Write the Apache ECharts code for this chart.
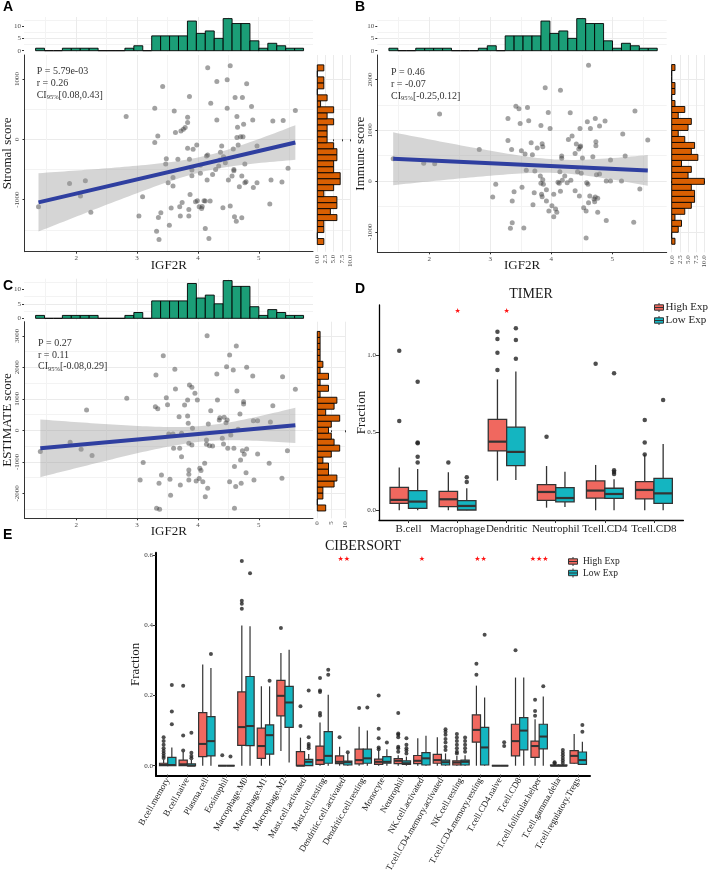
<!DOCTYPE html>
<html><head><meta charset="utf-8">
<script src="https://cdn.jsdelivr.net/npm/echarts@6/dist/echarts.min.js"></script>
<style>html,body{margin:0;padding:0;background:#fff}#c{width:709px;height:875px}</style>
</head><body><div id="c"></div>
<script>
// ================= DATA =================
// Panel A: IGF2R vs Stromal score
const aX = [1.38,1.89,2.07,2.15,2.24,2.82,3.03,3.09,3.29,3.29, 3.34,3.32,3.36,3.35,3.39,3.42,3.48,3.47,3.51,3.53, 3.56,3.59,3.59,3.61,3.63,3.67,3.70,3.71,3.72,3.74, 3.76,3.79,3.83,3.83,3.83,3.86,3.86,3.85,3.85,3.87, 3.90,3.90,3.92,3.96,3.98,3.99,4.02,4.04,4.04,4.06, 4.07,4.10,4.12,4.12,4.14,4.15,4.16,4.16,4.18,4.20, 4.21,4.24,4.29,4.31,4.31,4.34,4.36,4.37,4.39,4.41, 4.42,4.45,4.48,4.48,4.50,4.53,4.53,4.56,4.58,4.59, 4.59,4.60,4.61,4.63,4.64,4.64,4.65,4.66,4.68,4.70, 4.72,4.72,4.73,4.74,4.75,4.77,4.77,4.79,4.80,4.88, 4.90,4.91,4.97,4.97,5.18,5.20,5.23,5.38,5.40,5.48,5.60];
const aY = [-1119,-731,-942,-687,-1208,377,-1274,-953,515,-55, 55,-1524,-1662,-1296,-1219,875,-321,-410,-720,-1424, -1141,-632,-776,471,111,-332,-1119,-1274,139,-1047, 166,194,366,277,-150,709,-332,-1163,-1274,-914, -510,-604,-166,-1036,-94,-1019,-1119,-432,-565,-1147, -1114,-1019,-1479,-1025,-277,-676,1186,-260,-1645,-1025, 598,-582,-499,958,321,-443,-343,-216,-111,-1136, -288,-388,515,986,-676,1219,-1108,-609,-161,-499, -521,-1285,693,-1357,377,28,199,-94,-787,44, -609,-1302,693,44,249,-410,-720,-704,920,543, 321,-798,-720,-111,-1075,-676,305,-709,310,-482,476];
// Panel B: IGF2R vs Immune score
const bX = [1.41,1.91,2.09,2.17,2.82,3.04,3.09,3.29,3.29,3.33, 3.35,3.36,3.36,3.39,3.42,3.47,3.49,3.51,3.52,3.55, 3.57,3.59,3.61,3.63,3.67,3.69,3.70,3.72,3.73,3.77, 3.82,3.83,3.83,3.84,3.85,3.85,3.86,3.86,3.87,3.90, 3.92,3.92,3.95,3.96,3.98,4.01,4.04,4.04,4.07,4.09, 4.11,4.13,4.14,4.15,4.15,4.17,4.17,4.18,4.22,4.26, 4.28,4.31,4.32,4.34,4.39,4.39,4.41,4.43,4.45,4.46, 4.47,4.47,4.48,4.49,4.51,4.53,4.57,4.57,4.59,4.58, 4.60,4.61,4.61,4.63,4.64,4.68,4.70,4.71,4.72,4.72, 4.73,4.73,4.74,4.76,4.76,4.79,4.79,4.88,4.90,4.90, 4.97,4.97,5.15,5.17,5.21,5.35,5.37,5.45,5.58];
const bY = [439,348,341,1318,623,-315,-66,1233,800,-931, 623,-393,-820,-210,1475,1423,1134,597,-125,-925, 531,210,1449,1187,754,518,-466,-230,197,649, 98,1095,-46,-262,734,-308,675,26,-66,1836, -171,-393,1351,-590,1036,-485,-702,-262,-551,-616, -26,-46,184,-203,1790,446,492,13,98,-33, 820,1344,13,885,-190,544,728,184,630,-295, 1036,669,688,151,452,-525,-590,-1121,1167,-33, -66,2282,-426,-295,1036,479,-354,-407,-315,1233, 774,695,125,-616,-341,138,1082,1180,0,-780, 0,413,0,925,492,-813,1377,-157,807];
// Panel C: IGF2R vs ESTIMATE score
const cX = [1.41,1.90,2.08,2.17,2.26,2.83,3.05,3.10,3.30,3.31, 3.34,3.32,3.37,3.36,3.40,3.43,3.48,3.50,3.52,3.54, 3.55,3.59,3.60,3.62,3.63,3.69,3.70,3.71,3.73,3.73, 3.78,3.83,3.83,3.84,3.86,3.85,3.85,3.85,3.85,3.90, 3.90,3.91,3.95,3.97,3.99,4.02,4.03,4.05,4.08,4.11, 4.12,4.14,4.14,4.15,4.16,4.17,4.19,4.21,4.24,4.31, 4.32,4.35,4.36,4.40,4.42,4.43,4.46,4.47,4.48,4.49, 4.52,4.52,4.54,4.58,4.59,4.60,4.60,4.62,4.63,4.64, 4.66,4.69,4.70,4.71,4.73,4.75,4.75,4.76,4.79,4.80, 4.80,4.90,4.91,4.92,4.98,4.98,5.17,5.19,5.23,5.38, 5.39,5.47,5.60];
const cY = [-677,-381,-603,646,-804,1016,-1577,-1026,751,1757, 688,-2476,-2508,-1683,-1418,2370,1037,815,-116,-1556, -2063,-116,-571,1937,1312,434,-571,-1735,-95,-836, 804,963,455,222,1439,-413,-1259,-1397,-1577,-466, 1365,63,1175,-1608,963,-1534,-1206,-1280,-1630,-1048, -2106,-444,-307,3005,-1841,201,-487,624,-497,1788, 963,328,402,-254,-434,413,243,2021,328,-571, 2392,-1630,-148,1915,-571,-1153,-2476,-1788,2677,1249, 32,519,-942,-1683,-646,910,836,-762,-1344,2000, -593,1725,307,-1577,307,-751,-1048,265,783,-1524, 1704,-646,1302];

// Marginal histogram of IGF2R (shared by A, B, C)
const igf2rHistCounts = [1,0,0,1,1,1,1,0,0,0,1,2,0,6,6,6,6,12,7,8,5,13,11,11,4,1,3,2,1,1];
const igf2rBinStart = 1.34, igf2rBinWidth = 0.1465;
// Right marginal histograms (bins listed bottom -> top)
const stromalHistCounts = [2,0,2,2,6,4,6,6,2,5,7,7,5,5,6,6,5,3,3,3,5,3,5,1,3,0,2,2,0,2];
const stromalBinStart = -1745, stromalBinWidth = 99.3;
const immuneHistCounts = [1,0,2,3,1,4,6,7,7,6,10,5,6,3,8,6,7,4,2,5,6,2,4,1,0,1,1,0,0,1];
const immuneBinStart = -1246, immuneBinWidth = 118;
const estimateHistCounts = [3,0,2,2,6,7,4,4,2,5,8,6,5,4,5,8,3,6,7,1,4,1,4,1,2,1,1,1,1,1];
const estimateBinStart = -2561, estimateBinWidth = 190;

const statsA = ['P = 5.79e-03', 'r = 0.26', '[0.08,0.43]'];
const statsB = ['P = 0.46', 'r = -0.07', '[-0.25,0.12]'];
const statsC = ['P = 0.27', 'r = 0.11', '[-0.08,0.29]'];

// Tick values
const igf2rTicks = [2, 3, 4, 5];
const stromalTicks = [-1000, 0, 1000];
const immuneTicks = [-1000, 0, 1000, 2000];
const estimateTicks = [-2000, -1000, 0, 1000, 2000, 3000];
const histCountTicks = [0, 5, 10];
const rightTicksAB = [0, 2.5, 5, 7.5, 10];
const rightTicksC = [0, 5, 10];
const timerTicks = [0, 0.5, 1.0];
const ciberTicks = [0, 0.2, 0.4, 0.6];

// Panel D: TIMER  [min, Q1, median, Q3, max]
const timerCats = ['B.cell','Macrophage','Dendritic','Neutrophil','Tcell.CD4','Tcell.CD8'];
const timerHigh = [[0,0.045,0.067,0.148,0.275],[0,0.024,0.071,0.122,0.245],[0.191,0.382,0.442,0.586,0.843],[0.017,0.064,0.118,0.165,0.285],[0,0.079,0.127,0.189,0.292],[0,0.073,0.131,0.185,0.36]];
const timerLow  = [[0,0.013,0.056,0.127,0.266],[0,0.002,0.028,0.062,0.142],[0.195,0.288,0.376,0.536,0.893],[0.021,0.054,0.079,0.146,0.249],[0,0.077,0.105,0.142,0.2],[0,0.045,0.109,0.206,0.427]];
const timerHighOut = [[1.028,0.575],[0.307],[0.903,1.015,1.103,1.150],[0.474],[0.944],[0.36,0.436,0.582]];
const timerLowOut  = [[0.828,0.436,0.431,0.345,0.307],[0.212,0.182],[0.976,1.097,1.172],[],[0.258,0.247,0.234,0.882],[0.71]];
const timerSig = ['', '*', '*', '', '', ''];

// Panel E: CIBERSORT
const ciberCats = ['B.cell.memory','B.cell.naive','Plasma.cell','Eosinophil','Macrophage.M0','Macrophage.M1','Macrophage.M2','Mast.cell.activated','Mast.cell.resting','Dendritic.cell.activated','Dendritic.cell.resting','Monocyte','Neutrophil','NK.cell.activated','T.cell.CD4.memory.activated','NK.cell.resting','T.cell.CD4.memory.resting','T.cell.CD4.naive','T.cell.CD8','T.cell.follicular.helper','T.cell.gamma.delta','T.cell.regulatory.Tregs'];
const ciberHigh = [[0,0,0.002,0.007,0.017],[0,0,0.004,0.016,0.04],[0,0.026,0.062,0.151,0.288],[0,0,0,0,0],[0,0.058,0.11,0.21,0.399],[0,0.021,0.056,0.107,0.226],[0.042,0.142,0.199,0.243,0.321],[0,0,0,0.04,0.08],[0,0.004,0.016,0.056,0.123],[0,0.006,0.011,0.028,0.054],[0,0.005,0.016,0.047,0.111],[0,0.004,0.011,0.019,0.043],[0,0.006,0.014,0.02,0.03],[0,0.006,0.014,0.029,0.078],[0,0.007,0.016,0.032,0.081],[0,0.002,0.009,0.014,0.028],[0,0.067,0.102,0.145,0.228],[0,0,0,0,0],[0,0.028,0.07,0.118,0.251],[0,0.024,0.056,0.07,0.132],[0,0,0,0.002,0.005],[0.005,0.007,0.028,0.043,0.09]];
const ciberLow = [[0,0,0.002,0.024,0.052],[0,0,0,0.005,0.016],[0,0.028,0.07,0.14,0.278],[0,0,0,0,0],[0,0.057,0.113,0.254,0.397],[0,0.033,0.087,0.116,0.226],[0.009,0.109,0.18,0.226,0.33],[0,0,0.011,0.018,0.033],[0,0.007,0.028,0.097,0.202],[0,0.002,0.01,0.013,0.035],[0,0.007,0.021,0.047,0.1],[0,0.007,0.011,0.026,0.047],[0,0.004,0.007,0.014,0.026],[0,0.002,0.021,0.037,0.085],[0,0.002,0.01,0.016,0.035],[0,0.002,0.011,0.016,0.03],[0,0.002,0.052,0.109,0.194],[0,0,0,0,0],[0,0.045,0.1,0.137,0.251],[0,0.048,0.083,0.118,0.197],[0,0,0,0.002,0.003],[0.004,0.004,0.016,0.039,0.068]];
const ciberHighOut = [[0.081,0.07,0.06,0.05,0.042,0.035,0.028,0.022],[0.086,0.228,0.043],[],[0.03],[0.583,0.47,0.461,0.447],[],[0.392],[0.169,0.113],[0.25,0.214,0.21,0.15,0.143],[0.081],[0.164],[0.2,0.105,0.078,0.052,0.047],[0.15,0.092,0.088,0.081,0.054,0.05,0.04],[],[],[0.09,0.08,0.07,0.06,0.05,0.04,0.035],[0.259,0.29],[],[0.329],[0.188,0.156,0.142],[0.01,0.007],[]];
const ciberLowOut = [[0.23,0.154,0.118],[0.094,0.037,0.028,0.021],[0.318],[0.026],[0.548],[0.242],[],[0.214,0.081,0.062,0.056,0.05],[0.273,0.259],[0.038],[0.166],[0.066],[0.078,0.06,0.05,0.043,0.035],[],[0.104,0.097,0.088,0.076,0.066,0.054,0.045],[0.08,0.07,0.06,0.05,0.04],[0.373],[0.067,0.056],[],[0.226],[0.045,0.037,0.03,0.022,0.015,0.008],[0.116,0.097]];
const ciberSig = ['','','','','','','','','','**','','','','*','','','**','','','***','',''];

const groupNames = ['High Exp', 'Low Exp'];

// ================= STYLE / LAYOUT =================
const SERIF = '"Liberation Serif","Times New Roman",serif';
const SANS = '"Liberation Sans",Arial,sans-serif';
const MAJ = '#EBEBEB', MINC = '#F3F3F3', TICKC = '#4D4D4D';
const HIGH_C = '#F0685F', LOW_C = '#14B5C1';

const grids = [], xAxes = [], yAxes = [], series = [];
function addGrid(b) { grids.push({left: b.l, top: b.t, width: b.w, height: b.h, containLabel: false}); return grids.length - 1; }
function splitL(ends) { return {show: true, lineStyle: {color: MAJ, width: 1}, showMinLine: ends, showMaxLine: ends}; }
const minorSL = {show: true, lineStyle: {color: MINC, width: 1}};
const hidden = {axisLine: {show: false}, axisTick: {show: false}, axisLabel: {show: false}};
const tickLab = (vals, extra) => Object.assign({show: true, customValues: vals, showMinLabel: true, showMaxLabel: true, fontSize: 7, color: TICKC, fontFamily: SERIF, margin: 3, formatter: v => String(v)}, extra || {});
const nameStyle = {fontSize: 13, fontFamily: SERIF, color: '#1a1a1a'};

function regress(xs, ys) {
  const n = Math.min(xs.length, ys.length);
  let mx = 0, my = 0;
  for (let i = 0; i < n; i++) { mx += xs[i]; my += ys[i]; }
  mx /= n; my /= n;
  let sxx = 0, sxy = 0;
  for (let i = 0; i < n; i++) { sxx += (xs[i]-mx)*(xs[i]-mx); sxy += (xs[i]-mx)*(ys[i]-my); }
  const b = sxy / sxx, a = my - b * mx;
  let sse = 0;
  for (let i = 0; i < n; i++) { const r = ys[i] - a - b*xs[i]; sse += r*r; }
  const s = Math.sqrt(sse / (n - 2)), t = 1.982;
  const x0 = Math.min(...xs.slice(0, n)), x1 = Math.max(...xs.slice(0, n));
  const up = [], lo = [];
  for (let k = 0; k <= 60; k++) {
    const x = x0 + (x1 - x0) * k / 60, f = a + b * x;
    const se = s * Math.sqrt(1/n + (x-mx)*(x-mx)/sxx);
    up.push([x, f + t*se]); lo.push([x, f - t*se]);
  }
  return {a, b, x0, x1, up, lo};
}

function scatterPanel(c) {
  const gM = addGrid(c.main), gT = addGrid(c.top), gR = addGrid(c.right);
  const xi = xAxes.length, yi = yAxes.length;
  const axL = {show: true, onZero: false, lineStyle: {color: '#333', width: 1}};
  // main
  xAxes.push({type: 'value', gridIndex: gM, min: c.xr[0], max: c.xr[1], minInterval: 1, maxInterval: 1,
    axisLine: axL, axisTick: {show: true, length: 2, customValues: igf2rTicks, lineStyle: {color: '#333'}},
    axisLabel: tickLab(igf2rTicks), splitLine: splitL(false), minorTick: {show: false, splitNumber: 2}, minorSplitLine: minorSL,
    name: 'IGF2R', nameLocation: 'middle', nameGap: 7, nameMoveOverlap: false, nameTextStyle: nameStyle});
  yAxes.push({type: 'value', gridIndex: gM, min: c.yr[0], max: c.yr[1], minInterval: 1000, maxInterval: 1000,
    axisLine: axL, axisTick: {show: true, length: 2, customValues: c.yTicks, lineStyle: {color: '#333'}},
    axisLabel: tickLab(c.yTicks, {rotate: 90, margin: 4}), splitLine: splitL(false), minorTick: {show: false, splitNumber: 2}, minorSplitLine: minorSL,
    name: c.yName, nameLocation: 'middle', nameGap: 10.5, nameMoveOverlap: false, nameTextStyle: nameStyle});
  // top histogram
  xAxes.push(Object.assign({type: 'value', gridIndex: gT, min: c.xr[0], max: c.xr[1], minInterval: 1, maxInterval: 1,
    splitLine: splitL(false), minorTick: {show: false, splitNumber: 2}, minorSplitLine: minorSL}, hidden));
  yAxes.push({type: 'value', gridIndex: gT, min: c.topY[0], max: c.topY[1], minInterval: 5, maxInterval: 5,
    axisLine: {show: false}, axisTick: {show: true, length: 2, customValues: histCountTicks, lineStyle: {color: '#333'}},
    axisLabel: tickLab(histCountTicks), splitLine: splitL(false), minorTick: {show: false, splitNumber: 2}, minorSplitLine: minorSL});
  // right histogram
  xAxes.push({type: 'value', gridIndex: gR, min: 0, max: 10, minInterval: c.rInt, maxInterval: c.rInt,
    axisLine: {show: false}, axisTick: {show: true, length: 2, customValues: c.rTicks, lineStyle: {color: '#333'}},
    axisLabel: tickLab(c.rTicks, {rotate: 90, formatter: c.rFmt}), splitLine: splitL(true)});
  yAxes.push(Object.assign({type: 'value', gridIndex: gR, min: c.yr[0], max: c.yr[1], minInterval: 1000, maxInterval: 1000,
    splitLine: splitL(false), minorTick: {show: false, splitNumber: 2}, minorSplitLine: minorSL}, hidden));

  // points
  series.push({type: 'scatter', xAxisIndex: xi, yAxisIndex: yi, silent: true, z: 2,
    data: c.x.map((v, i) => [v, c.y[i]]), symbolSize: 5, itemStyle: {color: 'rgba(60,60,60,0.6)'}});
  // regression band and line
  const fit = regress(c.x, c.y);
  series.push({type: 'custom', xAxisIndex: xi, yAxisIndex: yi, silent: true, z: 3, clip: true, data: [[fit.x0, fit.a + fit.b*fit.x0]],
    renderItem: (p, api) => {
      const pts = fit.up.map(q => api.coord(q)).concat(fit.lo.slice().reverse().map(q => api.coord(q)));
      return {type: 'polygon', shape: {points: pts}, style: {fill: 'rgba(150,150,150,0.4)'}};
    }});
  series.push({type: 'line', xAxisIndex: xi, yAxisIndex: yi, silent: true, z: 4, symbol: 'none',
    data: [[fit.x0, fit.a + fit.b*fit.x0], [fit.x1, fit.a + fit.b*fit.x1]], lineStyle: {color: '#2F3FA0', width: 4}});
  // top histogram bars
  series.push({type: 'custom', xAxisIndex: xi+1, yAxisIndex: yi+1, silent: true, clip: false,
    data: igf2rHistCounts.map((n, i) => [igf2rBinStart + i*igf2rBinWidth, igf2rBinStart + (i+1)*igf2rBinWidth, n]),
    encode: {x: [0, 1], y: 2},
    renderItem: (p, api) => {
      const a = api.coord([api.value(0), api.value(2)]), b = api.coord([api.value(1), 0]);
      return {type: 'rect', shape: {x: a[0], y: a[1], width: b[0]-a[0], height: b[1]-a[1]}, style: {fill: '#1B9E77', stroke: '#000', lineWidth: 0.9}};
    }});
  // right histogram bars
  series.push({type: 'custom', xAxisIndex: xi+2, yAxisIndex: yi+2, silent: true, clip: false,
    data: c.rCounts.map((n, i) => [c.rStart + i*c.rWidth, c.rStart + (i+1)*c.rWidth, n]),
    encode: {x: 2, y: [0, 1]},
    renderItem: (p, api) => {
      const a = api.coord([0, api.value(1)]), b = api.coord([api.value(2), api.value(0)]);
      return {type: 'rect', shape: {x: a[0], y: a[1], width: b[0]-a[0], height: b[1]-a[1]}, style: {fill: '#D95F02', stroke: '#000', lineWidth: 0.9}};
    }});
}

function boxPanel(c) {
  const n = c.cats.length;
  const gM = addGrid(c.main);
  const unit = c.main.w / (n + 0.2);
  const gC = addGrid({l: c.main.l + 0.1*unit, t: c.main.t, w: n*unit, h: c.main.h});
  const xi = xAxes.length, yi = yAxes.length;
  const axL = {show: true, onZero: false, lineStyle: {color: '#000', width: c.axW}};
  xAxes.push({type: 'value', gridIndex: gM, min: 0.4, max: n + 0.6, axisLine: axL, axisTick: {show: false}, axisLabel: {show: false}, splitLine: {show: false}});
  yAxes.push({type: 'value', gridIndex: gM, min: c.yr[0], max: c.yr[1], minInterval: c.yInt, maxInterval: c.yInt,
    axisLine: axL, axisTick: {show: true, length: 3, customValues: c.yTicks, lineStyle: {color: '#333'}},
    axisLabel: tickLab(c.yTicks, {formatter: v => v.toFixed(1), margin: 3, color: '#333'}), splitLine: {show: false},
    name: 'Fraction', nameLocation: 'middle', nameGap: c.yNameGap, nameMoveOverlap: false, nameTextStyle: nameStyle});
  xAxes.push({type: 'category', gridIndex: gC, data: c.cats, boundaryGap: true, axisLine: {show: false},
    axisTick: {show: true, alignWithLabel: true, length: 3, lineStyle: {color: '#333'}},
    axisLabel: {interval: 0, fontSize: c.labSize, rotate: c.labRot, margin: 4, color: '#222', fontFamily: SERIF}, splitLine: {show: false}});
  yAxes.push({type: 'value', gridIndex: gC, show: false, min: 0, max: 1});

  const groups = [[c.high, c.highOut, -c.off, HIGH_C], [c.low, c.lowOut, c.off, LOW_C]];
  const hw = c.bw / 2;
  groups.forEach((g, gi) => {
    series.push({type: 'custom', name: groupNames[gi], xAxisIndex: xi, yAxisIndex: yi, silent: true, z: 3,
      itemStyle: {color: g[3], borderColor: '#333', borderWidth: 1},
      data: g[0].map((r, i) => [i + 1 + g[2]].concat(r)),
      encode: {x: 0, y: [1, 2, 3, 4, 5]},
      renderItem: (p, api) => {
        const x = api.value(0);
        const P = k => api.coord([x, api.value(k)]);
        const pMin = P(1), pQ1 = P(2), pMed = P(3), pQ3 = P(4), pMax = P(5);
        const L = api.coord([x - hw, 0])[0], R = api.coord([x + hw, 0])[0];
        const st = {stroke: '#333', lineWidth: c.lw};
        return {type: 'group', children: [
          {type: 'line', shape: {x1: pMin[0], y1: pMin[1], x2: pQ1[0], y2: pQ1[1]}, style: st},
          {type: 'line', shape: {x1: pQ3[0], y1: pQ3[1], x2: pMax[0], y2: pMax[1]}, style: st},
          {type: 'rect', shape: {x: L, y: pQ3[1], width: R - L, height: pQ1[1] - pQ3[1]}, style: {fill: g[3], stroke: '#333', lineWidth: c.lw}},
          {type: 'line', shape: {x1: L, y1: pMed[1], x2: R, y2: pMed[1]}, style: {stroke: '#333', lineWidth: c.lw * 1.7}}
        ]};
      }});
    const outs = [];
    g[1].forEach((arr, i) => arr.forEach(v => outs.push([i + 1 + g[2], v])));
    series.push({type: 'scatter', name: groupNames[gi] + ' outliers', xAxisIndex: xi, yAxisIndex: yi, silent: true, z: 4,
      data: outs, symbolSize: c.ptSize, itemStyle: {color: '#222'}});
  });
  // significance stars
  const sigData = [];
  c.sig.forEach((s, i) => { if (s) sigData.push([i + 1, c.starY, s.length]); });
  series.push({type: 'custom', xAxisIndex: xi, yAxisIndex: yi, silent: true, z: 5, clip: false, data: sigData,
    renderItem: (p, api) => {
      const pt = api.coord([api.value(0), api.value(1)]);
      return {type: 'text', x: pt[0], y: pt[1], style: {text: '\u2605'.repeat(api.value(2)), fill: '#FF1010', fontSize: 7, fontFamily: '"DejaVu Sans"', align: 'center', verticalAlign: 'middle'}};
    }});
}

scatterPanel({main: {l: 24, t: 55, w: 289, h: 196.7}, top: {l: 24, t: 17, w: 289, h: 35.3}, right: {l: 317.3, t: 55, w: 32.7, h: 196.7},
  xr: [1.15, 5.89], yr: [-1864, 1398], topY: [-0.65, 13.65], yTicks: stromalTicks, yName: 'Stromal score',
  x: aX, y: aY, rCounts: stromalHistCounts, rStart: stromalBinStart, rWidth: stromalBinWidth,
  rInt: 2.5, rTicks: rightTicksAB, rFmt: v => v.toFixed(1)});
scatterPanel({main: {l: 377.3, t: 55, w: 289.4, h: 197.3}, top: {l: 377.3, t: 17, w: 289.4, h: 35.3}, right: {l: 671.7, t: 55, w: 32.7, h: 197.3},
  xr: [1.15, 5.89], yr: [-1404, 2482], topY: [-0.65, 13.65], yTicks: immuneTicks, yName: 'Immune score',
  x: bX, y: bY, rCounts: immuneHistCounts, rStart: immuneBinStart, rWidth: immuneBinWidth,
  rInt: 2.5, rTicks: rightTicksAB, rFmt: v => v.toFixed(1)});
scatterPanel({main: {l: 24, t: 321.7, w: 289, h: 196.6}, top: {l: 24, t: 278.7, w: 289, h: 41.5}, right: {l: 317.3, t: 321.7, w: 28, h: 196.6},
  xr: [1.15, 5.89], yr: [-2794, 3448], topY: [-0.65, 13.65], yTicks: estimateTicks, yName: 'ESTIMATE score',
  x: cX, y: cY, rCounts: estimateHistCounts, rStart: estimateBinStart, rWidth: estimateBinWidth,
  rInt: 5, rTicks: rightTicksC, rFmt: v => String(v)});

boxPanel({main: {l: 379, t: 305, w: 304.4, h: 215}, cats: timerCats, yr: [-0.0625, 1.322], yInt: 0.5, yTicks: timerTicks, yNameGap: 11,
  high: timerHigh, low: timerLow, highOut: timerHighOut, lowOut: timerLowOut, sig: timerSig, starY: 1.283,
  off: 0.1875, bw: 0.375, lw: 1.3, ptSize: 4.5, axW: 1.3, labSize: 11, labRot: 0});
boxPanel({main: {l: 156, t: 552.7, w: 434, h: 223.3}, cats: ciberCats, yr: [-0.0293, 0.6065], yInt: 0.2, yTicks: ciberTicks, yNameGap: 14,
  high: ciberHigh, low: ciberLow, highOut: ciberHighOut, lowOut: ciberLowOut, sig: ciberSig, starY: 0.588,
  off: 0.21, bw: 0.42, lw: 1.2, ptSize: 4, axW: 2, labSize: 9, labRot: 60});

const statText = s => s[0] + '\n' + s[1] + '\nCI{s|95%}' + s[2];
const statStyle = {fontSize: 10, fontWeight: 'normal', lineHeight: 11.7, fontFamily: SERIF, color: '#333',
  rich: {s: {fontSize: 6.5, fontWeight: 'normal', fontFamily: SERIF, color: '#333', verticalAlign: 'bottom', padding: [3, 0, 0, 0]}}};
const panelLab = {fontSize: 14, fontWeight: 'bold', fontFamily: SANS, color: '#000'};
const titles = [
  {text: 'A', left: 3, top: 0, padding: 0, textStyle: panelLab},
  {text: 'B', left: 355, top: 0, padding: 0, textStyle: panelLab},
  {text: 'C', left: 3, top: 279, padding: 0, textStyle: panelLab},
  {text: 'D', left: 355, top: 282, padding: 0, textStyle: panelLab},
  {text: 'E', left: 3, top: 528, padding: 0, textStyle: panelLab},
  {text: 'TIMER', left: 531, top: 287, padding: 0, textAlign: 'center', textStyle: {fontSize: 14, fontWeight: 'normal', fontFamily: SERIF, color: '#1a1a1a'}},
  {text: 'CIBERSORT', left: 363, top: 539.5, padding: 0, textAlign: 'center', textStyle: {fontSize: 14, fontWeight: 'normal', fontFamily: SERIF, color: '#1a1a1a'}},
  {text: statText(statsA), left: 36.7, top: 66, padding: 0, textStyle: statStyle},
  {text: statText(statsB), left: 391, top: 67, padding: 0, textStyle: statStyle},
  {text: statText(statsC), left: 38, top: 337.5, padding: 0, textStyle: statStyle}
];
const BOXICON = 'path://M0,2H10V8H0Z M0,5H10 M5,0V2 M5,8V10';
const legends = [
  {data: groupNames, orient: 'vertical', left: 654, top: 302, padding: 0, itemWidth: 9, itemHeight: 9, itemGap: 2, icon: BOXICON,
   itemStyle: {borderColor: '#333', borderWidth: 1}, textStyle: {fontSize: 11, fontFamily: SERIF, color: '#222', padding: [0, 0, 0, -3]}},
  {data: groupNames, orient: 'vertical', left: 568, top: 556.5, padding: 0, itemWidth: 10, itemHeight: 9, itemGap: 1.5, icon: BOXICON,
   itemStyle: {borderColor: '#333', borderWidth: 1}, textStyle: {fontSize: 9.5, fontFamily: SERIF, color: '#222'}}
];

const chart = echarts.init(document.getElementById('c'), null, {renderer: 'canvas', width: 709, height: 875});
chart.setOption({animation: false, backgroundColor: '#fff', title: titles, legend: legends,
  grid: grids, xAxis: xAxes, yAxis: yAxes, series: series});
</script></body></html>
